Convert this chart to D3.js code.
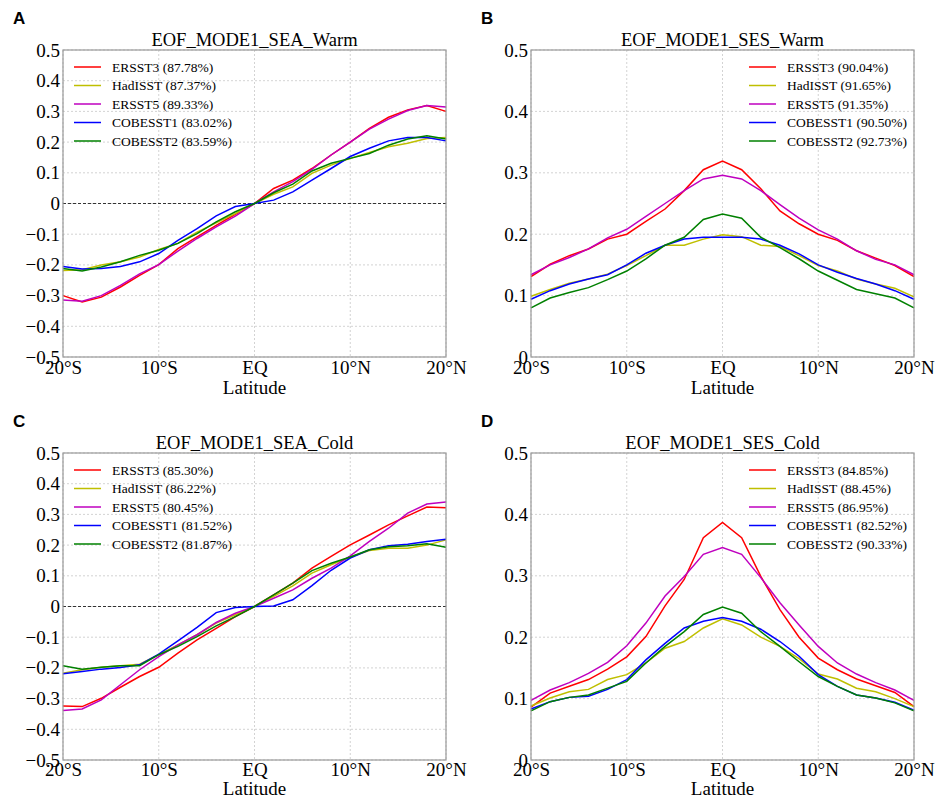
<!DOCTYPE html>
<html>
<head>
<meta charset="utf-8">
<script src="https://cdn.jsdelivr.net/npm/d3@7"></script>
<style>
  body { margin: 0; background: #fff; }
  svg text { font-family: "Liberation Serif", "Times New Roman", "DejaVu Serif", serif; }
</style>
</head>
<body>
<div id="chart"></div>
<script>
// latitudes, every 2 degrees
var lats = [-20,-18,-16,-14,-12,-10,-8,-6,-4,-2,0,2,4,6,8,10,12,14,16,18,20];
var latTicks = [-20,-10,0,10,20];
var latTickLabels = ["20°S","10°S","EQ","10°N","20°N"];
var datasets = ["ERSST3","HadISST","ERSST5","COBESST1","COBESST2"];
var colors = ["#ff0000","#bfbf00","#bf00bf","#0000ff","#008000"];

// A: SEA warm
var seaWarmERSST3 = [-0.300,-0.321,-0.305,-0.272,-0.234,-0.199,-0.147,-0.109,-0.071,-0.035,0,0.049,0.076,0.114,0.158,0.200,0.245,0.281,0.305,0.319,0.300];
var seaWarmHadISST = [-0.218,-0.216,-0.200,-0.190,-0.174,-0.150,-0.130,-0.093,-0.063,-0.033,0,0.030,0.054,0.098,0.125,0.147,0.166,0.185,0.196,0.212,0.215];
var seaWarmERSST5 = [-0.314,-0.318,-0.300,-0.267,-0.229,-0.199,-0.155,-0.114,-0.076,-0.041,0,0.038,0.071,0.111,0.158,0.200,0.242,0.275,0.303,0.319,0.314];
var seaWarmCOBE1 = [-0.205,-0.213,-0.212,-0.205,-0.190,-0.163,-0.120,-0.082,-0.040,-0.010,0,0.011,0.038,0.076,0.114,0.153,0.180,0.204,0.215,0.215,0.204];
var seaWarmCOBE2 = [-0.212,-0.220,-0.207,-0.190,-0.169,-0.152,-0.130,-0.098,-0.060,-0.027,0,0.035,0.063,0.106,0.131,0.147,0.163,0.190,0.210,0.221,0.210];
var seaWarmPct = ["87.78%","87.37%","89.33%","83.02%","83.59%"];

// B: SES warm
var sesWarmERSST3 = [0.131,0.151,0.165,0.176,0.192,0.200,0.221,0.241,0.271,0.305,0.319,0.305,0.274,0.238,0.217,0.200,0.190,0.173,0.161,0.149,0.131];
var sesWarmHadISST = [0.099,0.110,0.120,0.127,0.135,0.149,0.165,0.182,0.182,0.192,0.199,0.196,0.182,0.180,0.165,0.149,0.140,0.127,0.119,0.112,0.098];
var sesWarmERSST5 = [0.134,0.150,0.162,0.176,0.194,0.208,0.229,0.250,0.271,0.290,0.296,0.290,0.271,0.248,0.226,0.207,0.192,0.173,0.159,0.150,0.134];
var sesWarmCOBE1 = [0.094,0.108,0.119,0.127,0.134,0.150,0.169,0.182,0.192,0.195,0.195,0.195,0.192,0.182,0.168,0.150,0.138,0.128,0.119,0.108,0.094];
var sesWarmCOBE2 = [0.080,0.096,0.105,0.113,0.126,0.140,0.160,0.182,0.195,0.224,0.233,0.226,0.195,0.178,0.160,0.140,0.125,0.110,0.103,0.096,0.080];
var sesWarmPct = ["90.04%","91.65%","91.35%","90.50%","92.73%"];

// C: SEA cold
var seaColdERSST3 = [-0.324,-0.326,-0.299,-0.263,-0.228,-0.198,-0.152,-0.109,-0.071,-0.033,0,0.038,0.076,0.125,0.163,0.201,0.233,0.266,0.295,0.324,0.322];
var seaColdHadISST = [-0.217,-0.206,-0.198,-0.193,-0.188,-0.157,-0.125,-0.092,-0.054,-0.027,0,0.033,0.067,0.109,0.136,0.161,0.182,0.190,0.190,0.200,0.217];
var seaColdERSST5 = [-0.339,-0.334,-0.304,-0.255,-0.206,-0.163,-0.125,-0.092,-0.052,-0.022,0,0.027,0.054,0.092,0.125,0.165,0.212,0.255,0.304,0.334,0.340];
var seaColdCOBE1 = [-0.219,-0.212,-0.204,-0.199,-0.190,-0.155,-0.112,-0.068,-0.020,-0.003,0,0.002,0.022,0.068,0.118,0.158,0.185,0.198,0.203,0.212,0.219];
var seaColdCOBE2 = [-0.193,-0.204,-0.198,-0.193,-0.193,-0.157,-0.130,-0.098,-0.063,-0.033,0,0.038,0.076,0.117,0.141,0.161,0.185,0.195,0.198,0.204,0.193];
var seaColdPct = ["85.30%","86.22%","80.45%","81.52%","81.87%"];

// D: SES cold
var sesColdERSST3 = [0.086,0.109,0.120,0.131,0.148,0.168,0.201,0.251,0.294,0.362,0.387,0.362,0.299,0.245,0.200,0.166,0.147,0.132,0.121,0.110,0.087];
var sesColdHadISST = [0.088,0.101,0.111,0.115,0.131,0.139,0.158,0.182,0.193,0.215,0.230,0.220,0.200,0.185,0.165,0.140,0.132,0.117,0.111,0.100,0.087];
var sesColdERSST5 = [0.097,0.114,0.126,0.141,0.159,0.186,0.223,0.267,0.299,0.335,0.346,0.335,0.297,0.256,0.220,0.185,0.158,0.140,0.126,0.114,0.097];
var sesColdCOBE1 = [0.083,0.095,0.102,0.104,0.115,0.131,0.163,0.190,0.215,0.226,0.232,0.226,0.213,0.193,0.169,0.139,0.120,0.106,0.101,0.094,0.081];
var sesColdCOBE2 = [0.080,0.095,0.102,0.106,0.117,0.128,0.158,0.185,0.209,0.237,0.249,0.239,0.209,0.185,0.160,0.136,0.120,0.106,0.101,0.093,0.080];
var sesColdPct = ["84.85%","88.45%","86.95%","82.52%","90.33%"];

var sym = { domain: [-0.5, 0.5], ticks: [-0.5,-0.4,-0.3,-0.2,-0.1,0,0.1,0.2,0.3,0.4,0.5] };
var pos = { domain: [0, 0.5], ticks: [0,0.1,0.2,0.3,0.4,0.5] };

var panels = [
    { letter: "A", title: "EOF_MODE1_SEA_Warm", x0: 63, y0: 50, yinfo: sym, legendLeft: true, pct: seaWarmPct, tickPad: 4, labelDy: 37,
      series: [seaWarmERSST3, seaWarmHadISST, seaWarmERSST5, seaWarmCOBE1, seaWarmCOBE2] },
    { letter: "B", title: "EOF_MODE1_SES_Warm", x0: 531, y0: 50, yinfo: pos, legendLeft: false, pct: sesWarmPct, tickPad: 4, labelDy: 37,
      series: [sesWarmERSST3, sesWarmHadISST, sesWarmERSST5, sesWarmCOBE1, sesWarmCOBE2] },
    { letter: "C", title: "EOF_MODE1_SEA_Cold", x0: 63, y0: 453, yinfo: sym, legendLeft: true, pct: seaColdPct, tickPad: 2, labelDy: 35,
      series: [seaColdERSST3, seaColdHadISST, seaColdERSST5, seaColdCOBE1, seaColdCOBE2] },
    { letter: "D", title: "EOF_MODE1_SES_Cold", x0: 531, y0: 453, yinfo: pos, legendLeft: false, pct: sesColdPct, tickPad: 2, labelDy: 35,
      series: [sesColdERSST3, sesColdHadISST, sesColdERSST5, sesColdCOBE1, sesColdCOBE2] }
];

var plotW = 383, plotH = 307;

var svg = d3.select("#chart").append("svg")
    .attr("width", 935)
    .attr("height", 800);

panels.forEach(function (p) {
    let x = d3.scaleLinear().domain([-20, 20]).range([0, plotW]);
    let y = d3.scaleLinear().domain(p.yinfo.domain).range([plotH, 0]);

    svg.append("text")
        .attr("x", p.x0 - 50)
        .attr("y", p.y0 - 26)
        .style("font-family", "'Liberation Sans', Arial, sans-serif")
        .style("font-weight", "bold")
        .style("font-size", "17px")
        .text(p.letter);

    let g = svg.append("g").attr("transform", "translate(" + p.x0 + "," + p.y0 + ")");

    // grid
    g.selectAll(".vgrid").data(latTicks).enter().append("line")
        .attr("x1", d => x(d)).attr("x2", d => x(d))
        .attr("y1", 0).attr("y2", plotH)
        .style("stroke", "#c8c8c8").style("stroke-width", 0.8)
        .style("stroke-dasharray", "2,2");
    g.selectAll(".hgrid").data(p.yinfo.ticks).enter().append("line")
        .attr("x1", 0).attr("x2", plotW)
        .attr("y1", d => y(d)).attr("y2", d => y(d))
        .style("stroke", "#c8c8c8").style("stroke-width", 0.8)
        .style("stroke-dasharray", "2,2");

    if (p.yinfo.domain[0] < 0) {
        g.append("line")
            .attr("x1", 0).attr("x2", plotW)
            .attr("y1", y(0)).attr("y2", y(0))
            .style("stroke", "#333").style("stroke-width", 1)
            .style("stroke-dasharray", "3,2");
    }

    let line = d3.line()
        .x((d, i) => x(lats[i]))
        .y(d => y(d));

    p.series.forEach(function (s, k) {
        g.append("path")
            .datum(s)
            .attr("d", line)
            .style("fill", "none")
            .style("stroke", colors[k])
            .style("stroke-width", 1.5);
    });

    g.append("rect")
        .attr("width", plotW).attr("height", plotH)
        .style("fill", "none").style("stroke", "#999").style("stroke-width", 1.2);

    // axes
    let yAxis = d3.axisLeft(y).tickValues(p.yinfo.ticks).tickSize(0).tickPadding(3)
        .tickFormat(d => d === 0 ? "0" : d3.format(".1f")(d));
    let ya = g.append("g").call(yAxis);
    ya.select(".domain").remove();
    ya.selectAll("text").style("font-size", "19px")
        .attr("font-family", "Liberation Serif").attr("fill", "#000");

    let xAxis = d3.axisBottom(x).tickValues(latTicks).tickSize(0).tickPadding(p.tickPad)
        .tickFormat((d, i) => latTickLabels[i]);
    let xa = g.append("g").attr("transform", "translate(0," + plotH + ")").call(xAxis);
    xa.select(".domain").remove();
    xa.selectAll("text").style("font-size", "19px")
        .attr("font-family", "Liberation Serif").attr("fill", "#000");

    g.append("text")
        .attr("x", plotW / 2).attr("y", plotH + p.labelDy)
        .attr("text-anchor", "middle")
        .style("font-size", "19px")
        .text("Latitude");

    g.append("text")
        .attr("x", plotW / 2).attr("y", -4)
        .attr("text-anchor", "middle")
        .style("font-size", "18.5px")
        .text(p.title);

    // legend
    let lx = p.legendLeft ? 11 : 218;
    let leg = g.selectAll(".leg").data(datasets).enter().append("g")
        .attr("transform", (d, i) => "translate(" + lx + "," + (17 + i * 18.5) + ")");
    leg.append("line")
        .attr("x1", 0).attr("x2", 27).attr("y1", 0).attr("y2", 0)
        .style("stroke", (d, i) => colors[i]).style("stroke-width", 1.5);
    leg.append("text")
        .attr("x", 38).attr("y", 4.5)
        .style("font-size", "13.5px")
        .text((d, i) => d + " (" + p.pct[i] + ")");
});
</script>
</body>
</html>
